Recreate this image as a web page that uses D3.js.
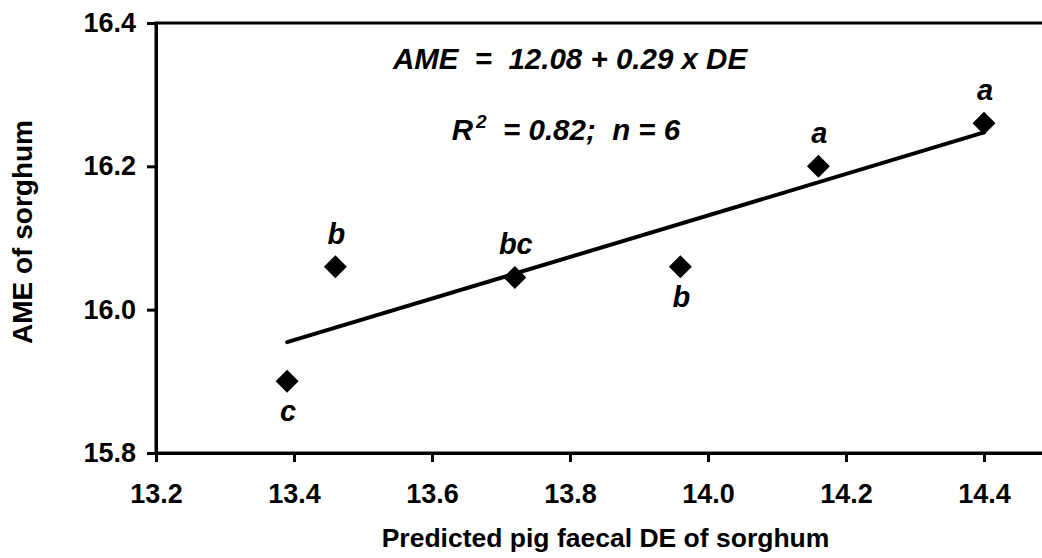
<!DOCTYPE html>
<html>
<head>
<meta charset="utf-8">
<script src="https://cdn.jsdelivr.net/npm/d3@7"></script>
<style>
  body { margin: 0; background: #fff; }
  svg { display: block; font-family: "Liberation Sans", Arial, sans-serif; }
</style>
</head>
<body>
<script>
// predicted pig faecal DE (x) and AME (y) of the six sorghums
const de = [13.39, 13.46, 13.72, 13.96, 14.16, 14.40];
const ame = [15.90, 16.06, 16.045, 16.06, 16.20, 16.26];
const letters = ["c", "b", "bc", "b", "a", "a"];
const xTicks = [13.2, 13.4, 13.6, 13.8, 14.0, 14.2, 14.4];
const yTicks = [15.8, 16.0, 16.2, 16.4];

const canvWidth = 1042, canvHeight = 558;
const margin = {top: 23, left: 156, bottom: 105};
// plot frame runs past the right edge of the picture (14.6 is off-canvas)
const width = 966;
const height = canvHeight - margin.top - margin.bottom;

const svg = d3.select("body").append("svg")
    .attr("width", canvWidth)
    .attr("height", canvHeight);

const g = svg.append("g")
    .attr("transform", `translate(${margin.left},${margin.top})`);

const xScale = d3.scaleLinear().domain([13.2, 14.6]).range([0, width]);
const yScale = d3.scaleLinear().domain([15.8, 16.4]).range([height, 0]);

// least squares trend line through the points
const mx = d3.mean(de), my = d3.mean(ame);
const slope = d3.sum(de, (d, i) => (d - mx) * (ame[i] - my)) / d3.sum(de, d => (d - mx) ** 2);
const icpt = my - slope * mx;
const fit = x => icpt + slope * x;

// frame (top border, right is off canvas)
g.append("rect")
    .attr("x", 0).attr("y", 0)
    .attr("width", width).attr("height", height)
    .attr("fill", "none")
    .attr("stroke", "#000")
    .attr("stroke-width", 3);

const xAxis = g.append("g")
    .attr("transform", `translate(0,${height})`)
    .call(d3.axisBottom(xScale).tickValues(xTicks).tickFormat(d3.format(".1f"))
        .tickSize(9).tickPadding(22));

const yAxis = g.append("g")
    .call(d3.axisLeft(yScale).tickValues(yTicks).tickFormat(d3.format(".1f"))
        .tickSize(9).tickPadding(11));

[xAxis, yAxis].forEach(a => {
    a.select(".domain").attr("stroke-width", 3);
    a.selectAll(".tick line").attr("stroke-width", 3);
    a.selectAll(".tick text")
        .attr("font-family", "Liberation Sans, Arial, sans-serif")
        .attr("font-size", "27px")
        .attr("font-weight", "bold")
        .attr("fill", "#000");
});

// trend line
const ext = d3.extent(de);
g.append("line")
    .attr("x1", xScale(ext[0])).attr("y1", yScale(fit(ext[0])))
    .attr("x2", xScale(ext[1])).attr("y2", yScale(fit(ext[1])))
    .attr("stroke", "#000")
    .attr("stroke-width", 4)
    .attr("stroke-linecap", "round");

// diamond markers
const diamond = d3.symbol().type(d3.symbolSquare).size(264);
g.selectAll(".pt")
    .data(de)
    .enter().append("path")
    .attr("class", "pt")
    .attr("d", diamond)
    .attr("transform", (d, i) => `translate(${xScale(d)},${yScale(ame[i])}) rotate(45)`)
    .attr("fill", "#000");

// significance letters: below the point if it sits clearly under the line
g.selectAll(".lbl")
    .data(de)
    .enter().append("text")
    .attr("class", "lbl")
    .attr("x", d => xScale(d) + 1)
    .attr("y", (d, i) => yScale(ame[i]) + (ame[i] - fit(d) < -0.03 ? 40 : -23))
    .attr("text-anchor", "middle")
    .attr("font-size", "29px")
    .attr("font-weight", "bold")
    .attr("font-style", "italic")
    .text((d, i) => letters[i]);

// equation
g.append("text")
    .attr("x", xScale(13.8))
    .attr("y", 46)
    .attr("text-anchor", "middle")
    .attr("font-size", "29.5px")
    .attr("font-weight", "bold")
    .attr("font-style", "italic")
    .style("white-space", "pre")
    .text("AME  =  12.08 + 0.29 x DE");

const r2 = g.append("text")
    .attr("x", xScale(13.8) - 4)
    .attr("y", 117)
    .attr("text-anchor", "middle")
    .attr("font-size", "29.5px")
    .attr("font-weight", "bold")
    .attr("font-style", "italic")
    .style("white-space", "pre");
r2.append("tspan").text("R");
r2.append("tspan").attr("font-size", "19px").attr("dx", 3).attr("dy", -12).text("2");
r2.append("tspan").attr("dy", 12).text("  = 0.82;  n = 6");

// axis titles
svg.append("text")
    .attr("x", 605.5)
    .attr("y", 547)
    .attr("text-anchor", "middle")
    .attr("font-size", "26.5px")
    .attr("font-weight", "bold")
    .text("Predicted pig faecal DE of sorghum");

svg.append("text")
    .attr("transform", `translate(32,${margin.top + height / 2 - 6}) rotate(-90)`)
    .attr("text-anchor", "middle")
    .attr("font-size", "28px")
    .attr("font-weight", "bold")
    .text("AME of sorghum");
</script>
</body>
</html>
